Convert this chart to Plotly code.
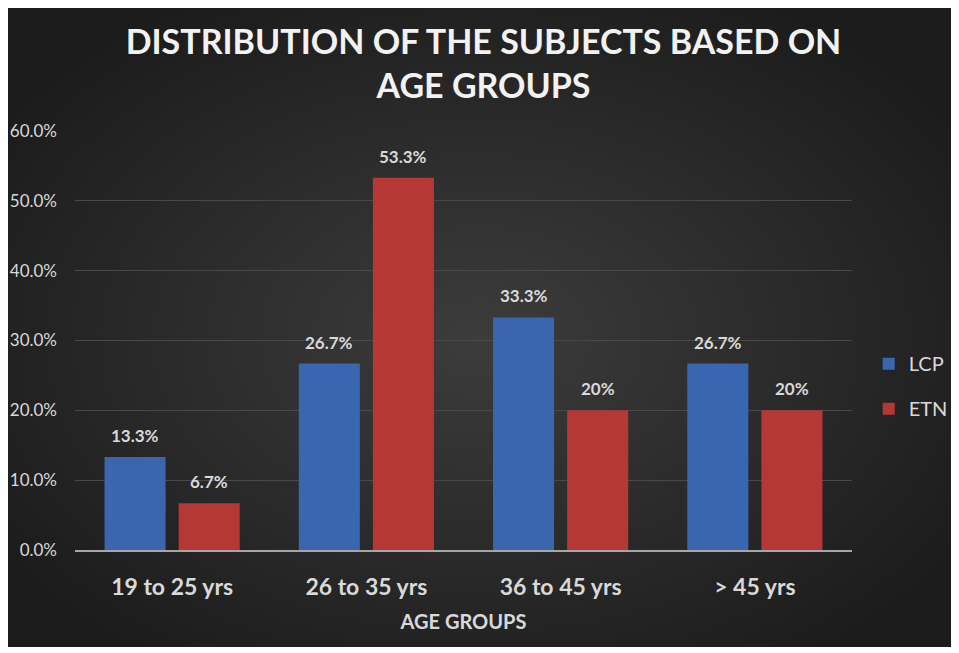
import plotly.graph_objects as go
import urllib.parse

categories = ["19 to 25 yrs", "26 to 35 yrs", "36 to 45 yrs", "> 45 yrs"]
lcp_values = [13.3, 26.7, 33.3, 26.7]
etn_values = [6.7, 53.3, 20.0, 20.0]
lcp_labels = ["13.3%", "26.7%", "33.3%", "26.7%"]
etn_labels = ["6.7%", "53.3%", "20%", "20%"]
y_ticks = [0, 10, 20, 30, 40, 50, 60]
y_tick_labels = ["0.0%", "10.0%", "20.0%", "30.0%", "40.0%", "50.0%", "60.0%"]

# page body has an 8px margin; figure coords = reference coords - 8
W, H = 951, 645
ML, MR, MT, MB = 67, 107, 123, 103
pw, ph = W - ML - MR, H - MT - MB

svg = (
    '<svg xmlns="http://www.w3.org/2000/svg" width="948" height="642" viewBox="0 0 948 642" preserveAspectRatio="none">'
    '<defs><radialGradient id="g" cx="50%" cy="52%" r="60%">'
    '<stop offset="0%" stop-color="#3c3c3c"/><stop offset="100%" stop-color="#1c1c1c"/>'
    '</radialGradient></defs><rect width="948" height="642" fill="url(#g)"/></svg>'
)
bg_src = "data:image/svg+xml;charset=utf-8," + urllib.parse.quote(svg)

label_font = dict(family="Lato", size=17, color="#d9d9d9", weight="bold")

fig = go.Figure()
fig.add_trace(go.Bar(
    name="LCP", x=categories, y=lcp_values, legendgroup="lcp",
    marker=dict(color="#3a66b0", line=dict(width=0)),
))
fig.add_trace(go.Bar(
    name="ETN", x=categories, y=etn_values, legendgroup="etn",
    marker=dict(color="#b53836", line=dict(width=0)),
))

for cat, v, lab in zip(categories, lcp_values, lcp_labels):
    fig.add_annotation(x=cat, y=v, text=lab, showarrow=False, xref="x", yref="y",
                       xshift=-37, yshift=9, yanchor="bottom", font=label_font)
for cat, v, lab in zip(categories, etn_values, etn_labels):
    fig.add_annotation(x=cat, y=v, text=lab, showarrow=False, xref="x", yref="y",
                       xshift=37, yshift=9, yanchor="bottom", font=label_font)

x0, x1 = -3, 944
y0, y1 = -3, 639
fig.add_layout_image(dict(
    source=bg_src, xref="paper", yref="paper",
    x=(x0 - ML) / pw, y=1 + (MT - y0) / ph,
    sizex=(x1 - x0) / pw, sizey=(y1 - y0) / ph,
    xanchor="left", yanchor="top", sizing="stretch", layer="below",
))

fig.update_layout(
    width=W, height=H,
    margin=dict(l=ML, r=MR, t=MT, b=MB, autoexpand=False),
    paper_bgcolor="white", plot_bgcolor="rgba(0,0,0,0)",
    barmode="group", bargap=0.237, bargroupgap=0.176,
    title=dict(
        text="DISTRIBUTION OF THE SUBJECTS BASED ON<br>AGE GROUPS",
        x=0.5, xanchor="center", xref="container",
        y=1 - 46 / H, yanchor="middle", yref="container",
        font=dict(family="Lato", size=34, color="#f2f2f2", weight="bold"),
    ),
    legend=dict(
        x=1.0215, y=0.391, xanchor="left", yanchor="middle",
        font=dict(family="Lato", size=20, color="#d9d9d9"),
        bgcolor="rgba(0,0,0,0)", tracegroupgap=16, itemwidth=30,
    ),
    xaxis=dict(
        automargin=False,
        showgrid=False, showline=True, linecolor="#a6a6a6", linewidth=2,
        ticks="", tickfont=dict(family="Lato", size=23, color="#d9d9d9", weight="bold"),
        ticklabelstandoff=15,
        title=dict(text="AGE GROUPS", standoff=16,
                   font=dict(family="Lato", size=20, color="#d9d9d9", weight="bold")),
    ),
    yaxis=dict(
        automargin=False,
        range=[0, 60], tickvals=y_ticks, ticktext=y_tick_labels,
        showgrid=True, gridcolor="#494949", gridwidth=1,
        zeroline=False, showline=False,
        tickfont=dict(family="Lato", size=17, color="#d9d9d9"),
        ticklabelstandoff=17,
    ),
    font=dict(family="Lato", color="#d9d9d9"),
)

fig.write_html("out.html")
